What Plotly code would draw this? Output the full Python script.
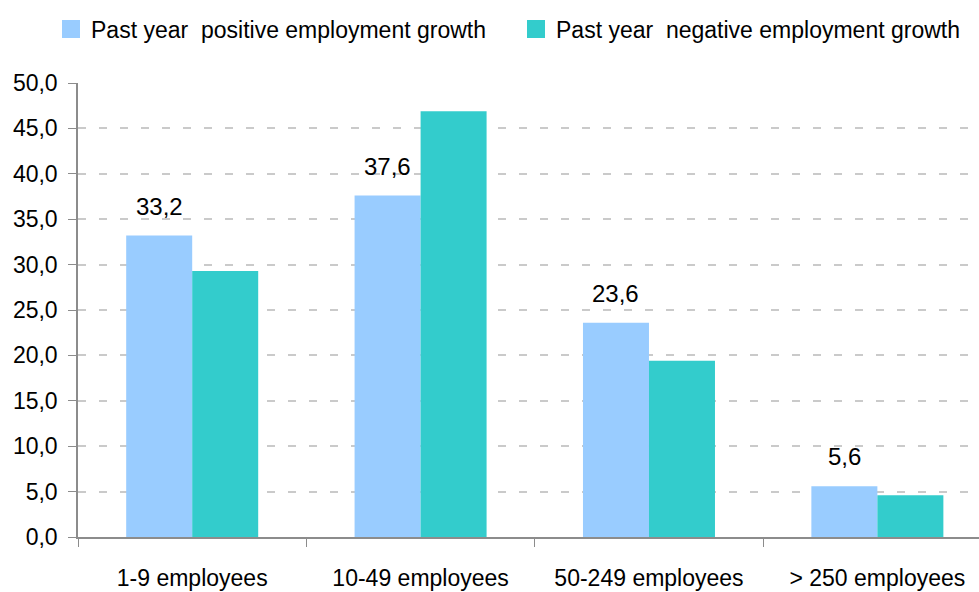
import plotly.graph_objects as go

categories = ["1-9 employees", "10-49 employees", "50-249 employees", "> 250 employees"]
positive_growth = [33.2, 37.6, 23.6, 5.6]
negative_growth = [29.3, 46.9, 19.4, 4.6]
y_ticks = [0, 5, 10, 15, 20, 25, 30, 35, 40, 45, 50]

FONT = "Liberation Sans, Arial, sans-serif"
AXIS_GREY = "#8C8C8C"
W, H = 979, 592

fig = go.Figure()
fig.add_trace(go.Bar(
    x=categories, y=positive_growth,
    name="Past year  positive employment growth",
    marker=dict(color="#99CCFF", line=dict(width=0)),
    legend="legend",
))
fig.add_trace(go.Bar(
    x=categories, y=negative_growth,
    name="Past year  negative employment growth",
    marker=dict(color="#33CCCC", line=dict(width=0)),
    legend="legend2",
))

# value labels above the positive-growth bars
for cat, val in zip(categories, positive_growth):
    fig.add_annotation(
        x=cat, y=val, xref="x", yref="y",
        text=f"{val:.1f}".replace(".", ","),
        showarrow=False, yanchor="bottom", yshift=14, xshift=-33,
        font=dict(family=FONT, size=24, color="#000000"),
    )

legend_style = dict(
    orientation="h", xref="container", yref="container",
    y=1 - 29 / H, xanchor="left", yanchor="middle",
    font=dict(family=FONT, size=23, color="#000000"),
    itemwidth=30, bgcolor="rgba(0,0,0,0)",
)

fig.update_layout(
    width=W, height=H,
    margin=dict(l=78, r=0, t=83, b=55),
    paper_bgcolor="white", plot_bgcolor="white",
    barmode="group", bargap=0.422, bargroupgap=0,
    separators=",.",
    font=dict(family=FONT, size=23, color="#000000"),
    showlegend=True,
    legend=dict(x=51 / W, **legend_style),
    legend2=dict(x=516 / W, **legend_style),
    xaxis=dict(
        range=[-0.5, 3.445],
        showline=True, linecolor=AXIS_GREY, linewidth=1.5,
        ticks="outside", tickson="boundaries", ticklen=8, tickcolor=AXIS_GREY,
        tickfont=dict(family=FONT, size=23), showgrid=False,
        ticklabelstandoff=20,
    ),
    yaxis=dict(
        range=[0, 50], tickvals=y_ticks, tickformat=".1f",
        showline=True, linecolor=AXIS_GREY, linewidth=1.5,
        ticks="outside", ticklen=8, tickcolor=AXIS_GREY,
        showgrid=True, gridcolor="#CACACA", griddash="8px,13px", gridwidth=1.5,
        zeroline=False, tickfont=dict(family=FONT, size=23),
        ticklabelstandoff=6,
    ),
)

# enlarge the square legend swatches, keeping their placement
post = """
document.querySelectorAll('.legendpoints path').forEach(function(p){
  var t = p.getAttribute('transform') || '';
  p.setAttribute('transform', t + ' scale(1.5)');
});
"""

fig.write_html("out.html", post_script=post)
